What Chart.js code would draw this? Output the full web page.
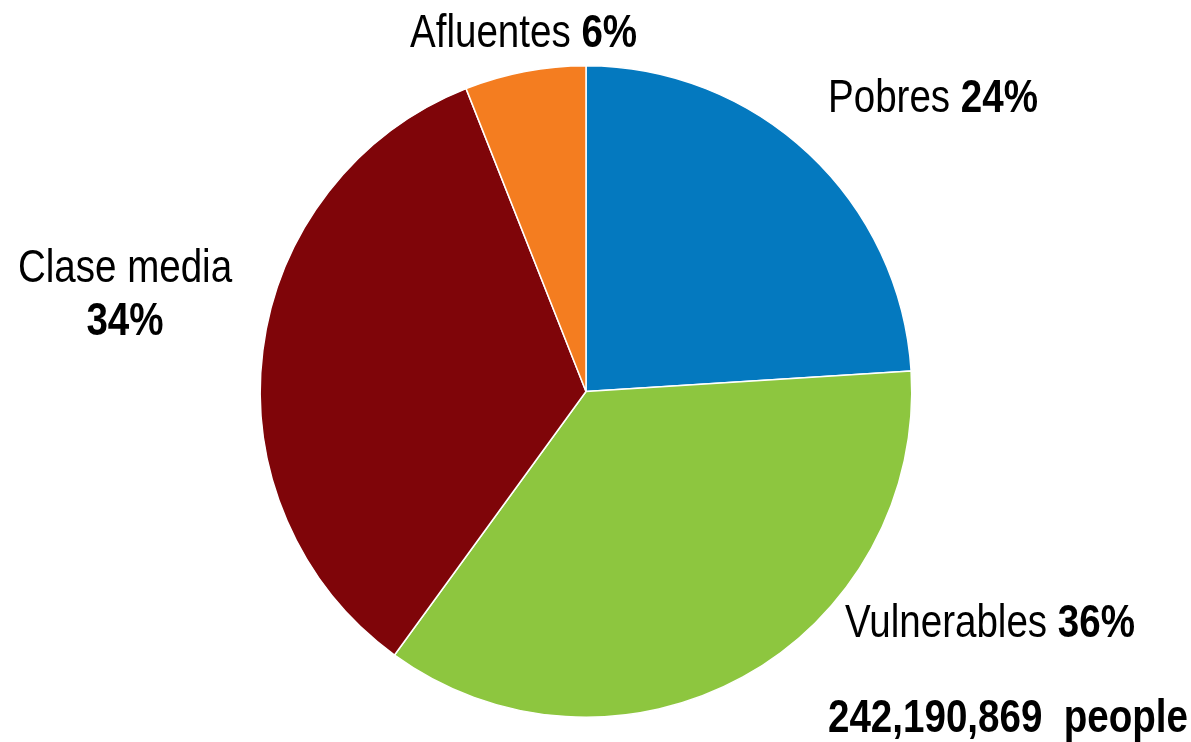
<!DOCTYPE html>
<html>
<head>
<meta charset="utf-8">
<script src="https://cdn.jsdelivr.net/npm/chart.js@4.4.1/dist/chart.umd.min.js"></script>
<style>
  html, body { margin: 0; padding: 0; background: #fff; }
  #wrap { width: 1191px; height: 742px; position: relative; }
</style>
</head>
<body>
<div id="wrap"><canvas id="pie-chart"></canvas></div>
<script>
// ====== Data ======
const categories = ['Pobres', 'Vulnerables', 'Clase media', 'Afluentes'];
const shares = [24, 36, 34, 6];
const sliceColors = ['#0479bf', '#8dc63f', '#7f0509', '#f47d20'];
const totalLabel = '242,190,869 people';

const FONT = '"Liberation Sans", Arial, sans-serif';
const SIZE = 47;
const SQUEEZE = 0.82; // no narrow face installed, so squeeze the regular one

// draw a line made of [text, bold] parts, starting at x (or centred on x)
function drawParts(ctx, parts, x, y, align) {
  let total = 0;
  parts.forEach(p => {
    ctx.font = (p[1] ? 'bold ' : '') + SIZE + 'px ' + FONT;
    total += ctx.measureText(p[0]).width * SQUEEZE;
  });
  let cx = align === 'center' ? x - total / 2 : x;
  parts.forEach(p => {
    ctx.font = (p[1] ? 'bold ' : '') + SIZE + 'px ' + FONT;
    ctx.save();
    ctx.translate(cx, y);
    ctx.scale(SQUEEZE, 1);
    ctx.fillText(p[0], 0, 0);
    ctx.restore();
    cx += ctx.measureText(p[0]).width * SQUEEZE;
  });
}

// ====== Slice labels ======
const labelPlugin = {
  id: 'sliceLabels',
  afterDraw(chart) {
    const ctx = chart.ctx;
    ctx.save();
    ctx.fillStyle = '#000';
    ctx.textAlign = 'left';
    ctx.textBaseline = 'alphabetic';
    const pct = i => shares[i] + '%';
    drawParts(ctx, [[categories[3] + ' ', false], [pct(3), true]], 410, 47, 'left');
    drawParts(ctx, [[categories[0] + ' ', false], [pct(0), true]], 828, 112, 'left');
    drawParts(ctx, [[categories[2], false]], 125, 282, 'center');
    drawParts(ctx, [[pct(2), true]], 125, 335, 'center');
    drawParts(ctx, [[categories[1] + ' ', false], [pct(1), true]], 845, 637, 'left');
    drawParts(ctx, [[totalLabel.replace(' ', '  '), true]], 828, 732, 'left');
    ctx.restore();
  }
};

new Chart(document.getElementById('pie-chart'), {
  type: 'pie',
  data: {
    labels: categories,
    datasets: [{
      data: shares,
      backgroundColor: sliceColors,
      borderColor: '#ffffff',
      borderWidth: 1.5
    }]
  },
  options: {
    responsive: true,
    maintainAspectRatio: false,
    animation: false,
    layout: { padding: { top: 65, bottom: 24, left: 259, right: 278 } },
    plugins: {
      legend: { display: false },
      tooltip: { enabled: false }
    }
  },
  plugins: [labelPlugin]
});
</script>
</body>
</html>
